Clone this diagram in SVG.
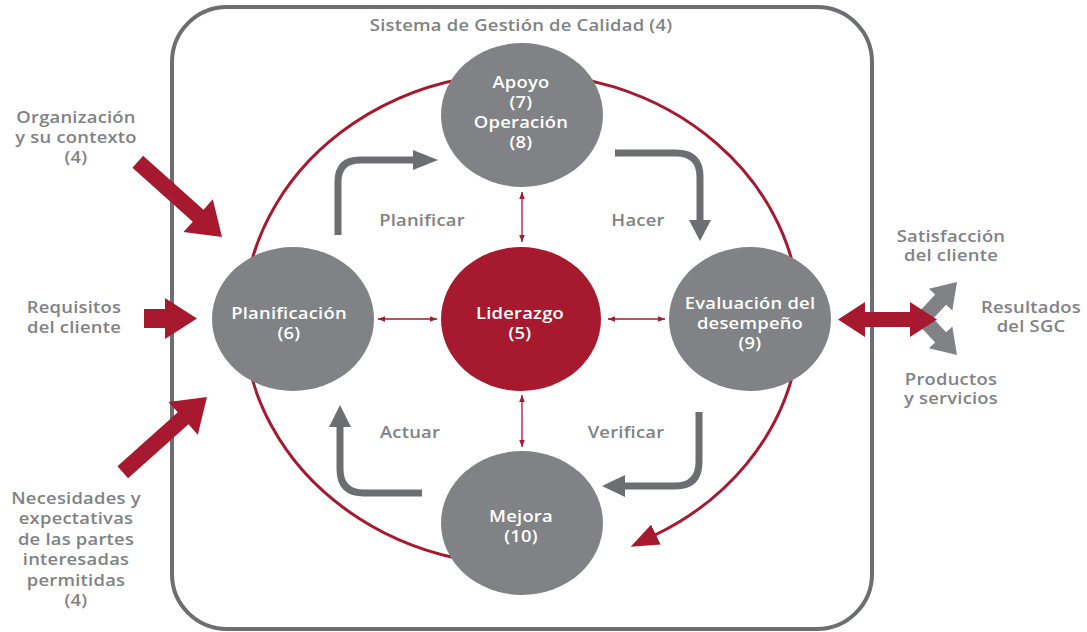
<svg xmlns="http://www.w3.org/2000/svg" width="1087" height="632" viewBox="0 0 1087 632">
<defs>
<style>
.t{font-family:"Open Sans","Liberation Sans",sans-serif;font-weight:600;font-size:16px;letter-spacing:0.2px;text-anchor:middle}
.g{fill:#808285}
.w{fill:#ffffff}
.node{fill:#808285}
.lead{fill:#a6192e}
.pdca{fill:none;stroke:#6d6e71;stroke-width:7}
.pdcah{fill:#6d6e71}
.thin{stroke:#a6192e;stroke-width:1.3;fill:none;marker-start:url(#sa);marker-end:url(#sa)}
.red{fill:#a6192e}
.gr{fill:#808285}
</style>
<marker id="sa" viewBox="0 0 10 8" refX="10" refY="4" markerWidth="7" markerHeight="6" orient="auto-start-reverse" markerUnits="userSpaceOnUse">
<path d="M0,0 L10,4 L0,8 z" fill="#a6192e"/>
</marker>
<marker id="bigr" viewBox="0 0 28 22" refX="1" refY="11" markerWidth="28" markerHeight="22" orient="auto" markerUnits="userSpaceOnUse">
<path d="M0,0 L28,11 L0,22 z" fill="#a6192e"/>
</marker>
</defs>
<rect width="1087" height="632" fill="#ffffff"/>
<g id="sgc">
<rect x="172" y="7" width="700" height="622" rx="55" ry="55" fill="none" stroke="#6d6e71" stroke-width="4"/>
<text class="t g" transform="translate(521,31) scale(1.15,1)">Sistema de Gestión de Calidad (4)</text>
</g>
<g id="connectors">
<path d="M470,560.7 A278,246 0 1 1 655,535" fill="none" stroke="#a6192e" stroke-width="3" marker-end="url(#bigr)"/>
<path class="pdca" d="M338,235 V182 Q338,160 360,160 H415"/>
<polygon class="pdcah" points="413,150 438,160 413,170"/>
<path class="pdca" d="M615,153 H676 Q700,153 700,177 V221"/>
<polygon class="pdcah" points="689,220 700,241 711,220"/>
<path class="pdca" d="M699,412 V462 Q699,486 675,486 H624"/>
<polygon class="pdcah" points="625,475 602,486 625,497"/>
<path class="pdca" d="M422,493 H364 Q340,493 340,469 V426"/>
<polygon class="pdcah" points="329,427 340,405 351,427"/>
<line class="thin" x1="522" y1="192" x2="522" y2="242"/>
<line class="thin" x1="522" y1="395" x2="522" y2="447"/>
<line class="thin" x1="378" y1="319" x2="437" y2="319"/>
<line class="thin" x1="608" y1="319" x2="665" y2="319"/>
<polygon class="red" transform="translate(222,237) rotate(41.8)" points="-113,-8 -32,-8 -32,-22 0,0 -32,22 -32,8 -113,8"/>
<polygon class="red" points="144,309 165,309 165,298 197,318.5 165,339 165,328 144,328"/>
<polygon class="red" transform="translate(207,397) rotate(-41.8)" points="-113,-8 -32,-8 -32,-22 0,0 -32,22 -32,8 -113,8"/>
<polygon class="gr" transform="translate(957,282) rotate(-47)" points="-52,-7.5 -24,-7.5 -24,-16 0,0 -24,16 -24,7.5 -52,7.5"/>
<polygon class="gr" transform="translate(957,355) rotate(47)" points="-52,-7.5 -24,-7.5 -24,-16 0,0 -24,16 -24,7.5 -52,7.5"/>
<polygon class="red" points="838,319.5 865,302 865,312 910,312 910,302 937,319.5 910,337 910,327 865,327 865,337"/>
</g>
<g id="apoyo">
<ellipse class="node" cx="522" cy="115" rx="81" ry="72"/>
<text class="t w" transform="translate(521,88) scale(1.15,1)"><tspan x="0">Apoyo</tspan><tspan x="0" dy="20">(7)</tspan><tspan x="0" dy="20">Operación</tspan><tspan x="0" dy="20">(8)</tspan></text>
</g>
<g id="planificacion">
<ellipse class="node" cx="293" cy="319" rx="81" ry="72"/>
<text class="t w" transform="translate(289,319) scale(1.15,1)"><tspan x="0">Planificación</tspan><tspan x="0" dy="20">(6)</tspan></text>
</g>
<g id="liderazgo">
<ellipse class="lead" cx="521" cy="319" rx="80" ry="72"/>
<text class="t w" transform="translate(520,319) scale(1.15,1)"><tspan x="0">Liderazgo</tspan><tspan x="0" dy="20">(5)</tspan></text>
</g>
<g id="evaluacion">
<ellipse class="node" cx="750" cy="319" rx="81" ry="72"/>
<text class="t w" transform="translate(750,309) scale(1.15,1)"><tspan x="0">Evaluación del</tspan><tspan x="0" dy="20">desempeño</tspan><tspan x="0" dy="20">(9)</tspan></text>
</g>
<g id="mejora">
<ellipse class="node" cx="522" cy="523" rx="81" ry="72"/>
<text class="t w" transform="translate(521,522) scale(1.15,1)"><tspan x="0">Mejora</tspan><tspan x="0" dy="20">(10)</tspan></text>
</g>
<g id="labels">
<text class="t g" transform="translate(422,226) scale(1.15,1)">Planificar</text>
<text class="t g" transform="translate(638,226) scale(1.15,1)">Hacer</text>
<text class="t g" transform="translate(410,438) scale(1.15,1)">Actuar</text>
<text class="t g" transform="translate(626,438) scale(1.15,1)">Verificar</text>
<text class="t g" transform="translate(76,123) scale(1.15,1)"><tspan x="0">Organización</tspan><tspan x="0" dy="20">y su contexto</tspan><tspan x="0" dy="20">(4)</tspan></text>
<text class="t g" transform="translate(74,313) scale(1.15,1)"><tspan x="0">Requisitos</tspan><tspan x="0" dy="20">del cliente</tspan></text>
<text class="t g" transform="translate(76,504) scale(1.15,1)"><tspan x="0">Necesidades y</tspan><tspan x="0" dy="20.5">expectativas</tspan><tspan x="0" dy="20.5">de las partes</tspan><tspan x="0" dy="20.5">interesadas</tspan><tspan x="0" dy="20.2">permitidas</tspan><tspan x="0" dy="20.2">(4)</tspan></text>
<text class="t g" transform="translate(951,241.5) scale(1.15,1)"><tspan x="0">Satisfacción</tspan><tspan x="0" dy="20">del cliente</tspan></text>
<text class="t g" transform="translate(1031,312.5) scale(1.15,1)"><tspan x="0">Resultados</tspan><tspan x="0" dy="20">del SGC</tspan></text>
<text class="t g" transform="translate(951,384.5) scale(1.15,1)"><tspan x="0">Productos</tspan><tspan x="0" dy="20">y servicios</tspan></text>
</g>
</svg>
